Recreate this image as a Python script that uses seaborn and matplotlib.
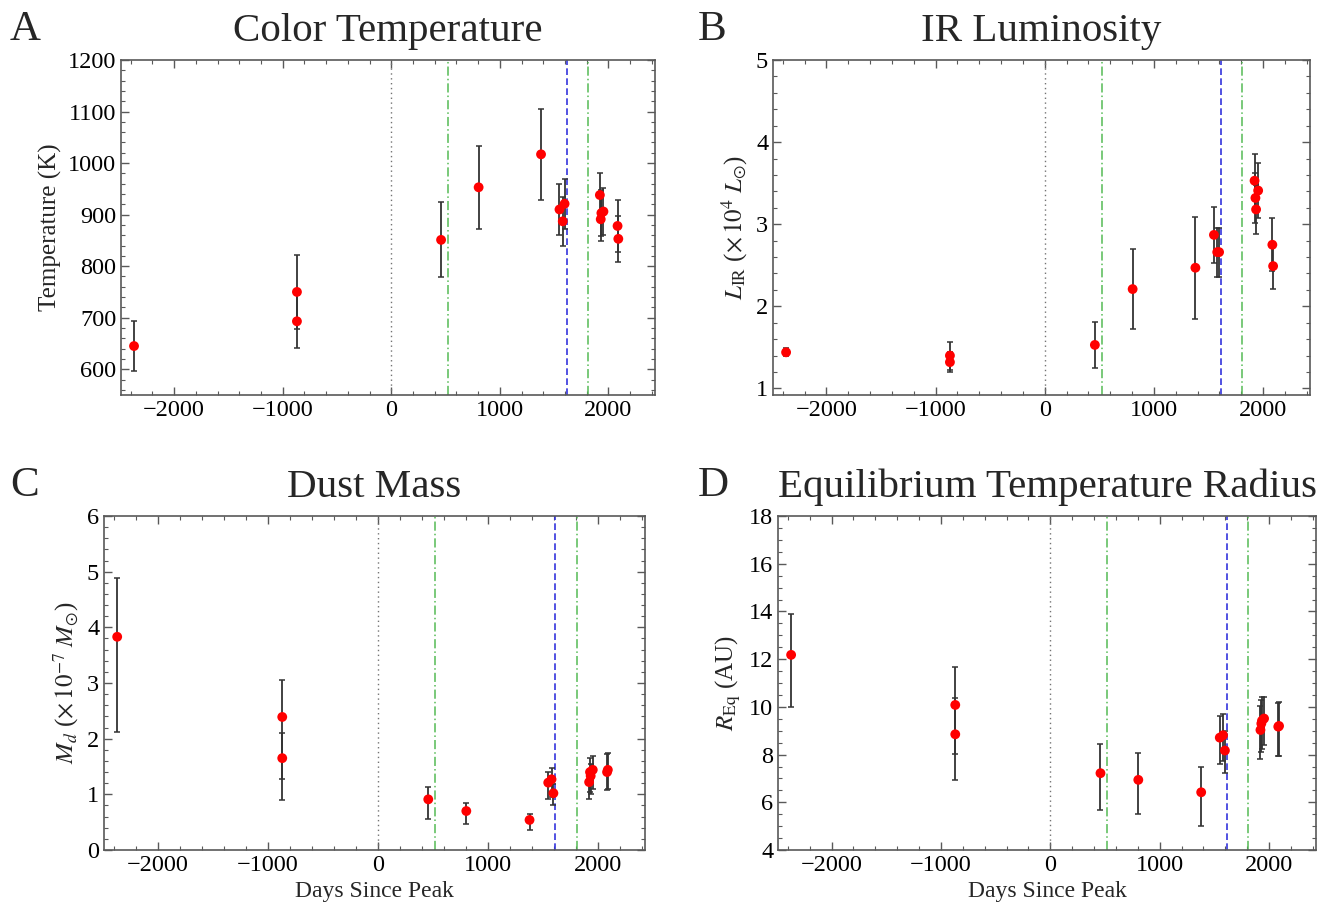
import matplotlib
matplotlib.use("Agg")
import numpy as np
import pandas as pd
import seaborn as sns
import matplotlib.pyplot as plt
from matplotlib.ticker import MultipleLocator

# epochs (days since peak)
days = [-2370, -869, -869, 459, 805, 1380, 1550, 1580, 1597, 1922, 1930, 1936, 1955, 2085, 2092]

temp = [645, 750, 693, 851, 953, 1017, 910, 887, 921, 938, 891, 903, 906, 878, 853]
temp_err = [48, 72, 52, 73, 80, 88, 50, 47, 48, 42, 43, 45, 45, 50, 45]

lum = [1.44, 1.40, 1.32, 1.53, 2.21, 2.47, 2.87, 2.66, 2.66, 3.53, 3.32, 3.18, 3.41, 2.75, 2.49]
lum_err = [0.05, 0.17, 0.12, 0.28, 0.49, 0.62, 0.34, 0.30, 0.30, 0.33, 0.30, 0.30, 0.33, 0.32, 0.28]

mass = [3.83, 2.39, 1.65, 0.91, 0.70, 0.54, 1.21, 1.27, 1.02, 1.22, 1.40, 1.33, 1.44, 1.40, 1.44]
mass_hi = [1.05, 0.66, 0.45, 0.22, 0.15, 0.11, 0.20, 0.20, 0.17, 0.20, 0.25, 0.22, 0.25, 0.32, 0.30]
mass_lo = [1.71, 1.11, 0.75, 0.36, 0.24, 0.18, 0.30, 0.32, 0.22, 0.30, 0.35, 0.32, 0.35, 0.33, 0.35]

radius = [12.18, 10.08, 8.85, 7.22, 6.94, 6.42, 8.71, 8.81, 8.17, 9.03, 9.30, 9.42, 9.51, 9.17, 9.20]
radius_hi = [1.72, 1.59, 1.51, 1.21, 1.12, 1.07, 0.90, 0.90, 0.80, 1.00, 1.00, 1.00, 0.90, 1.00, 1.00]
radius_lo = [2.18, 2.05, 1.93, 1.53, 1.45, 1.42, 1.10, 1.10, 0.95, 1.20, 1.20, 1.20, 1.10, 1.25, 1.25]

# event markers
peak_day = 0
green_days = [520, 1810]
blue_day = 1615

sns.set_style("ticks")
plt.rcParams["font.family"] = ["Liberation Serif", "DejaVu Serif"]
plt.rcParams["mathtext.fontset"] = "stix"
plt.rcParams["axes.edgecolor"] = "0.35"
plt.rcParams["xtick.color"] = "0.35"
plt.rcParams["ytick.color"] = "0.35"
plt.rcParams["xtick.labelcolor"] = "black"
plt.rcParams["ytick.labelcolor"] = "black"

W, H = 1333, 915
fig = plt.figure(figsize=(W / 100, H / 100), dpi=100)


def px_axes(left, right, top, bottom):
    return fig.add_axes([left / W, 1 - bottom / H, (right - left) / W, (bottom - top) / H])


panels = [
    dict(box=(121, 655, 60, 395), y=temp, lo=temp_err, hi=temp_err,
         title="Color Temperature", letter="A", ylabel="Temperature (K)",
         ylim=(550, 1200), major=100, minor=20, xlabel=False),
    dict(box=(773, 1310, 60, 395), y=lum, lo=lum_err, hi=lum_err,
         title="IR Luminosity", letter="B",
         ylabel=r"$L_{\mathrm{IR}}$ ($\times\,10^{4}\ L_{\odot}$)",
         ylim=(0.92, 5), major=1, minor=0.2, xlabel=False),
    dict(box=(104, 645, 516, 850), y=mass, lo=mass_lo, hi=mass_hi,
         title="Dust Mass", letter="C",
         ylabel=r"$M_d$ ($\times\,10^{-7}\ M_{\odot}$)",
         ylim=(0, 6), major=1, minor=0.2, xlabel=True),
    dict(box=(778, 1316, 516, 850), y=radius, lo=radius_lo, hi=radius_hi,
         title="Equilibrium Temperature Radius", letter="D",
         ylabel=r"$R_{\mathrm{Eq}}$ (AU)",
         ylim=(4, 18), major=2, minor=0.5, xlabel=True),
]

for p in panels:
    ax = px_axes(*p["box"])
    ax.axvline(peak_day, color="0.45", ls=(0, (1, 2.5)), lw=1)
    for g in green_days:
        ax.axvline(g, color="#55bb55", ls=(0, (6, 2, 1, 2)), lw=1.1)
    ax.axvline(blue_day, color="#3333dd", ls=(0, (4, 2)), lw=1.2)

    ax.errorbar(days, p["y"], yerr=[p["lo"], p["hi"]], fmt="none",
                ecolor="0.2", elinewidth=1.3, capsize=2, capthick=1.1, zorder=3)
    df = pd.DataFrame({"day": days, "val": p["y"]})
    sns.scatterplot(data=df, x="day", y="val", ax=ax, color="red", s=50,
                    edgecolor="none", zorder=4)

    ax.set_xlim(-2490, 2430)
    ax.set_ylim(*p["ylim"])
    ax.xaxis.set_major_locator(MultipleLocator(1000))
    ax.xaxis.set_minor_locator(MultipleLocator(200))
    ax.yaxis.set_major_locator(MultipleLocator(p["major"]))
    ax.yaxis.set_minor_locator(MultipleLocator(p["minor"]))
    ax.tick_params(which="both", direction="in", top=True, right=True, labelsize=17.5)
    ax.tick_params(which="major", length=6, width=1)
    ax.tick_params(which="minor", length=3, width=0.8)
    ax.xaxis.set_major_formatter(plt.FuncFormatter(lambda v, _: f"{int(v)}".replace("-", "\u2212")))
    for s in ax.spines.values():
        s.set_linewidth(1.2)

    ax.set_title(p["title"], fontsize=29.5, pad=14)
    ax.set_ylabel(p["ylabel"], fontsize=18)
    ax.set_xlabel("Days Since Peak" if p["xlabel"] else "", fontsize=17)

    l, r, t, b = p["box"]
    lx = 10 if l < 400 else 698
    fig.text(lx / W, 1 - (t - 30) / H, p["letter"], fontsize=31, va="center", ha="left")

fig.savefig("out.png", dpi=100)
